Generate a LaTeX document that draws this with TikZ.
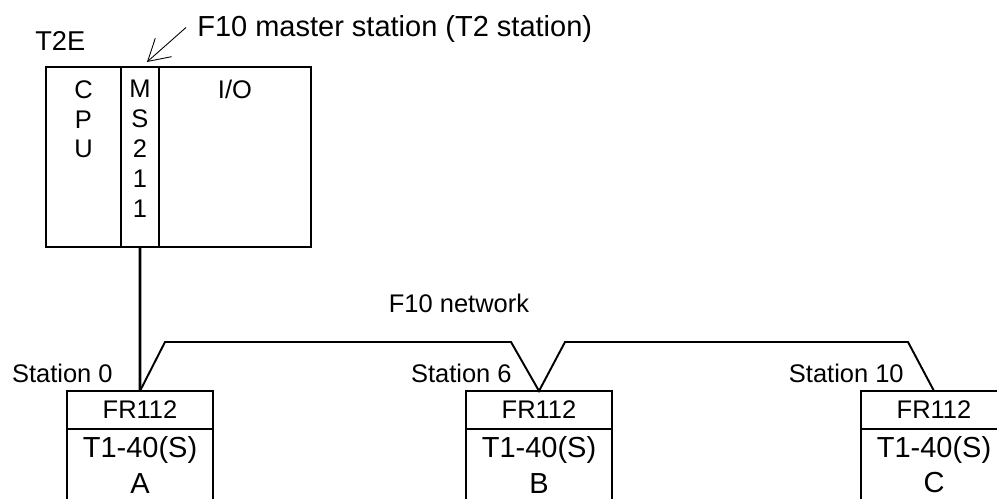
\documentclass[tikz,border=0pt]{standalone}
\usepackage{fontspec}
\setmainfont{Liberation Sans}
\usepackage{tikz}
\usetikzlibrary{arrows.meta, calc, positioning}

\begin{document}
\begin{tikzpicture}[
    x=0.02cm, y=-0.02cm,
    module/.style={rectangle, draw, line width=1pt, inner sep=0pt, outer sep=0pt, minimum height=3.6cm},
    frbox/.style={rectangle, draw, line width=1pt, inner sep=0pt, outer sep=0pt, minimum width=2.92cm, minimum height=0.76cm, font=\fontsize{14.5}{17}\selectfont},
    unitbox/.style={rectangle, draw, line width=1pt, inner sep=0pt, outer sep=0pt, minimum width=2.92cm, minimum height=1.44cm, align=center, font=\fontsize{16.5}{20}\selectfont},
    lbl/.style={inner sep=0pt, align=center, font=\fontsize{14.5}{17}\selectfont},
    lblbig/.style={inner sep=0pt, font=\fontsize{16.5}{20}\selectfont},
    net/.style={line width=1.1pt, line join=miter},
    pointer/.style={-{Straight Barb[length=12pt, width=14pt]}, line width=0.5pt}
]
    \useasboundingbox (0,0) rectangle (997,499);

    % T2E: CPU, MS211 and I/O modules
    \node[module, anchor=north west, minimum width=1.5cm] (cpu) at (46,67) {};
    \node[module, anchor=north west, minimum width=0.76cm] (ms) at (cpu.north east) {};
    \node[module, anchor=north west, minimum width=3.04cm] (io) at (ms.north east) {};
    \node[lbl, below=0.26cm of cpu.north] (cputxt) {C\\P\\U};
    \node[lbl, below=0.26cm of ms.north] (mstxt) {M\\S\\2\\1\\1};
    \node[lbl, below=0.26cm of io.north] (iotxt) {I/O};
    \node[lbl, anchor=base west, font=\fontsize{15.5}{18}\selectfont] (t2e) at (35,51) {T2E};

    % master station label
    \node[lblbig, anchor=base west] (master) at (197,37) {F10 master station (T2 station)};
    \draw[pointer] ([shift={(-11,-2)}]master.west) -- ([shift={(7,-5)}]ms.north);

    % stations
    \node[frbox] (frA) at (140,410) {FR112};
    \node[unitbox, below=0pt of frA] (unitA) {T1-40(S)\\A};
    \node[frbox] (frB) at (539,410) {FR112};
    \node[unitbox, below=0pt of frB] (unitB) {T1-40(S)\\B};
    \node[frbox] (frC) at (934,410) {FR112};
    \node[unitbox, below=0pt of frC] (unitC) {T1-40(S)\\C};

    \node[lbl, above left=0.16cm and 0.54cm of frA.north] (st0) {Station 0};
    \node[lbl, above left=0.16cm and 0.54cm of frB.north] (st6) {Station 6};
    \node[lbl, above left=0.16cm and 0.6cm of frC.north] (st10) {Station 10};

    % F10 network
    \node[lbl, anchor=base] (netlbl) at (459,313) {F10 network};
    \draw[line width=1.5pt] (ms.south) -- (frA.north);
    \draw[net] (frA.north) -- ++(25,-49) -- ($(frB.north)+(-28,-49)$) -- (frB.north)
        -- ++(26,-49) -- ($(frC.north)+(-26,-49)$) -- (frC.north);
\end{tikzpicture}
\end{document}
